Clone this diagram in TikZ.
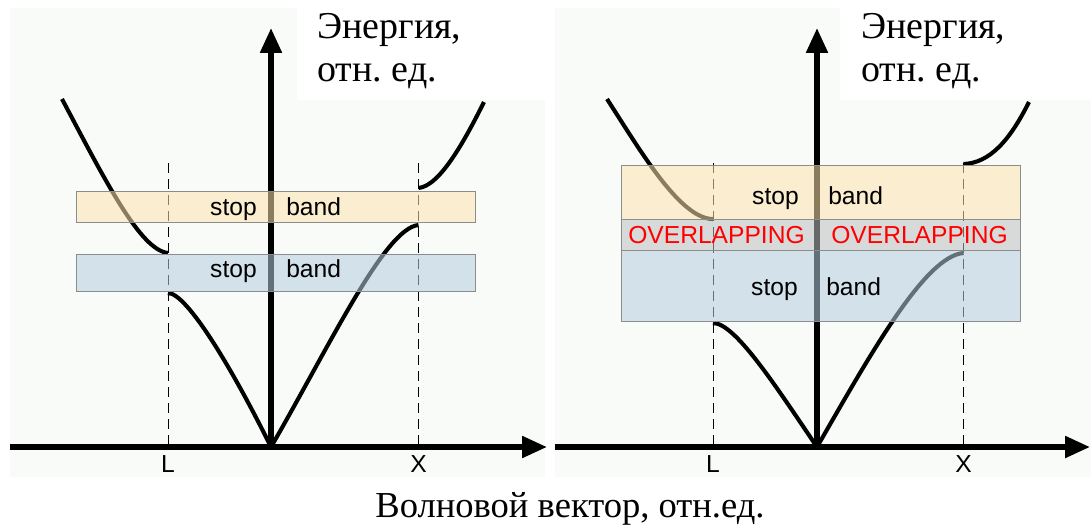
\documentclass[tikz,border=0pt]{standalone}
\usepackage{fontspec}
\setmainfont{Liberation Serif}
\setsansfont{Liberation Sans}
\usetikzlibrary{arrows.meta,positioning}
\frenchspacing
\definecolor{PcPanel}{HTML}{F9FBF9}
\definecolor{PcOrange}{HTML}{FEE3AD}
\definecolor{PcBlue}{HTML}{B4CCDE}
\definecolor{PcGray}{HTML}{BDBFC1}
\definecolor{PcEdge}{HTML}{8C8C8C}
\definecolor{PcRed}{HTML}{FF0000}
\tikzset{
  pc axis/.style={-{Triangle[length=0.62cm,width=0.52cm]},line width=3.8pt},
  pc curve/.style={line width=2.9pt},
  pc guide/.style={line width=0.6pt,dash pattern=on 0.25cm off 0.15cm},
  pc band/.style={
    draw=PcEdge,
    line width=0.7pt,
    fill opacity=0.55,
    inner sep=0pt,
    minimum width=9.9625cm
  },
  pc word/.style={font=\sffamily\fontsize{17.5}{21}\selectfont,inner sep=0pt},
  pc overlap/.style={pc word,text=PcRed},
  pc tick/.style={font=\sffamily\fontsize{17.5}{21}\selectfont,inner sep=0pt},
  pc title/.style={font=\fontsize{27}{30.5}\selectfont,inner sep=0pt,align=left}
}

\begin{document}
\begin{tikzpicture}[x=0.025cm,y=-0.025cm]
  \useasboundingbox (0,0) rectangle (1091,529);
  % backgrounds
  \fill[PcPanel] (10,8) rectangle (545,477);
  \fill[PcPanel] (555,8) rectangle (1091,477);
  \fill[white] (297,0) rectangle (545,100);
  \fill[white] (840,0) rectangle (1091,100);

  % left panel: separate stop bands
  \coordinate (lO) at (271,447);
  \coordinate (lTop) at (271,28);
  \coordinate (lW) at (10,447);
  \coordinate (lE) at (547,447);
  \coordinate (lL) at (168,447);
  \coordinate (lX) at (418.5,447);
  \draw[pc guide] (168,163) -- (lL);
  \draw[pc guide] (418.5,163) -- (lX);
  \draw[pc curve] (62,99) .. controls (105,180) and (140,250) .. (168,253);
  \draw[pc curve] (168,293) .. controls (187,293) and (233,370) .. (lO);
  \draw[pc curve] (lO) .. controls (330,345) and (385,228) .. (418.5,225);
  \draw[pc curve] (418.5,188) .. controls (440,186) and (465,140) .. (484,102);
  \draw[pc axis] (lW) -- (lE);
  \draw[pc axis] (lO) -- (lTop);
  \node[pc band,fill=PcOrange,minimum height=0.775cm] (lUp) at (275.75,206.5) {};
  \node[pc band,fill=PcBlue,minimum height=0.925cm] (lLow) at (275.75,272.5) {};
  \node[pc word,anchor=base east] (lUpS) at (257,215) {stop};
  \node[pc word,anchor=base west] (lUpB) at (286,215) {band};
  \node[pc word,anchor=base east] (lLowS) at (257,277) {stop};
  \node[pc word,anchor=base west] (lLowB) at (286,277) {band};
  \node[pc tick] (lLlab) at (168,464) {L};
  \node[pc tick] (lXlab) at (418.5,464) {X};
  \node[pc title,anchor=north west] (lTitle) at (317,13) {Энергия,\\отн. ед.};

  % right panel: overlapping stop bands
  \coordinate (rO) at (817,447);
  \coordinate (rTop) at (817,28);
  \coordinate (rW) at (555,447);
  \coordinate (rE) at (1090,447);
  \coordinate (rL) at (713,447);
  \coordinate (rX) at (963.5,447);
  \draw[pc guide] (713,163) -- (rL);
  \draw[pc guide] (963.5,163) -- (rX);
  \draw[pc curve] (607,99) .. controls (640,150) and (680,219) .. (713,219);
  \draw[pc curve] (713,323) .. controls (735,323) and (775,385) .. (rO);
  \draw[pc curve] (rO) .. controls (870,355) and (925,256) .. (963.5,253);
  \draw[pc curve] (963.5,164) .. controls (990,163) and (1010,140) .. (1029,102);
  \draw[pc axis] (rW) -- (rE);
  \draw[pc axis] (rO) -- (rTop);
  \node[pc band,fill=PcOrange,minimum height=1.35cm] (rUp) at (820.75,192) {};
  \node[pc band,fill=PcGray,minimum height=0.775cm] (rMid) at (820.75,234.5) {};
  \node[pc band,fill=PcBlue,minimum height=1.775cm] (rLow) at (820.75,285.5) {};
  \node[pc word,anchor=base east] (rUpS) at (799,204) {stop};
  \node[pc word,anchor=base west] (rUpB) at (828,204) {band};
  \node[pc overlap,anchor=base west] (rMidA) at (628,243) {OVERLAPPING};
  \node[pc overlap,anchor=base west] (rMidB) at (831,243) {OVERLAPPING};
  \node[pc word,anchor=base east] (rLowS) at (798,295) {stop};
  \node[pc word,anchor=base west] (rLowB) at (826,295) {band};
  \node[pc tick] (rLlab) at (713,464) {L};
  \node[pc tick] (rXlab) at (963.5,464) {X};
  \node[pc title,anchor=north west] (rTitle) at (861,13) {Энергия,\\отн. ед.};

  % common abscissa caption
  \node[pc title,font=\fontsize{26}{30}\selectfont,anchor=base] (kCap) at (570,517) {Волновой вектор, отн.ед.};
\end{tikzpicture}
\end{document}
